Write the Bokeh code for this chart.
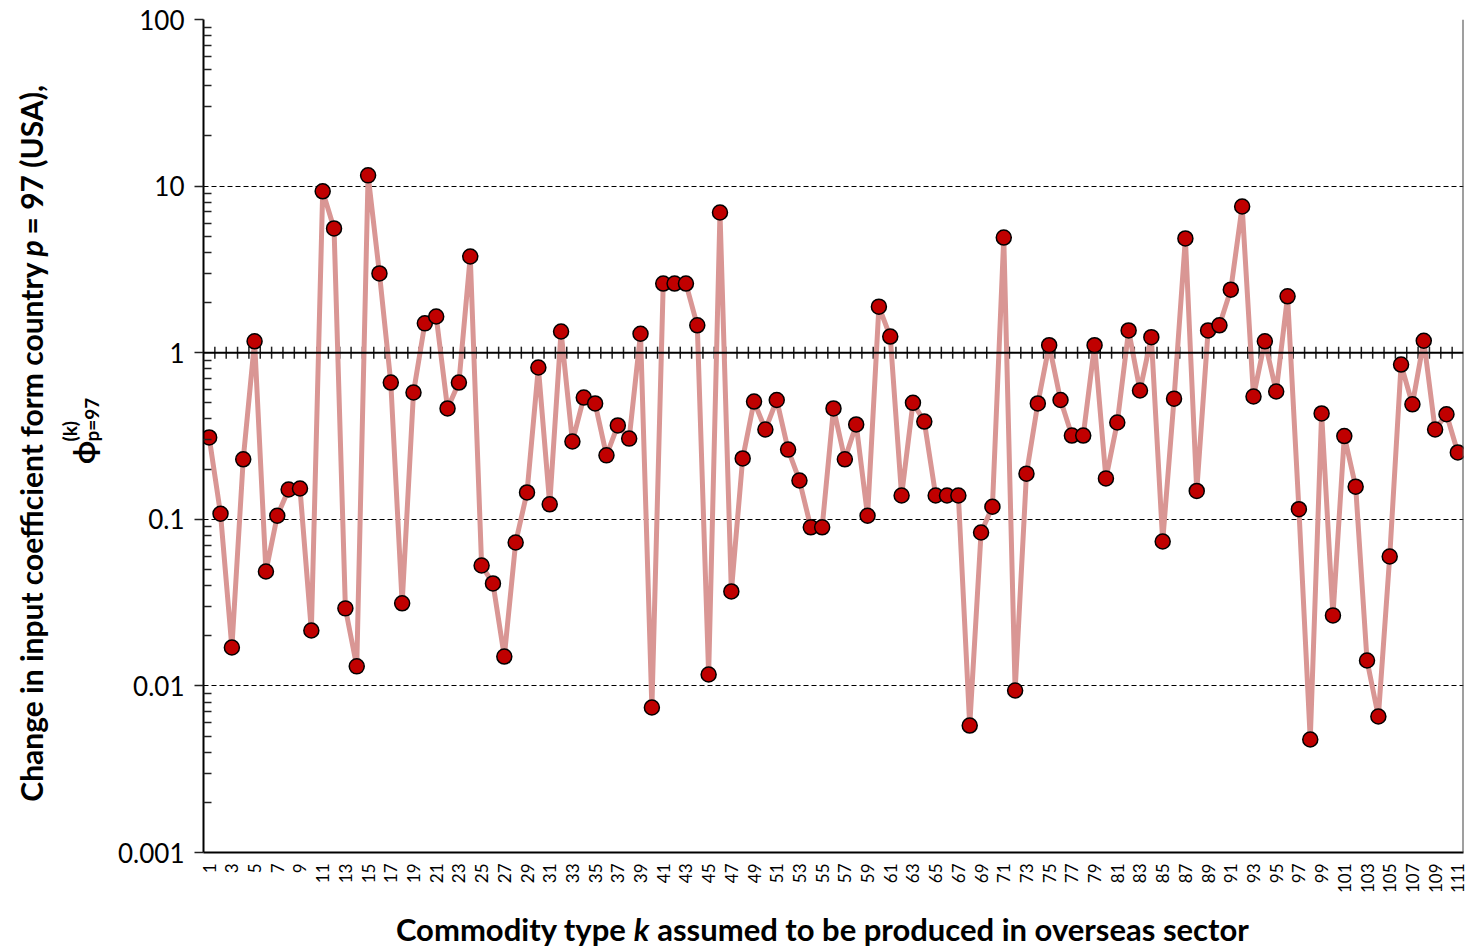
import math
from bokeh.plotting import figure
from bokeh.layouts import row, column
from bokeh.models import FixedTicker, Span, Label, CustomJSTickFormatter, ColumnDataSource, Range1d
from bokeh.embed import file_html
from bokeh.resources import INLINE

# ---- data ----
commodity = list(range(1, 112))
phi = [0.31, 0.108, 0.0170, 0.229, 1.17, 0.0486, 0.105, 0.151, 0.153, 0.0215,
       9.3, 5.57, 0.0292, 0.0131, 11.6, 2.99, 0.662, 0.0313, 0.577, 1.50,
       1.65, 0.463, 0.662, 3.78, 0.0528, 0.0412, 0.0150, 0.0726, 0.145, 0.815,
       0.123, 1.34, 0.293, 0.538, 0.496, 0.242, 0.366, 0.305, 1.30, 0.00742,
       2.60, 2.60, 2.60, 1.46, 0.0117, 6.94, 0.0369, 0.232, 0.509, 0.346,
       0.52, 0.262, 0.171, 0.0895, 0.0895, 0.463, 0.229, 0.371, 0.105, 1.89,
       1.25, 0.139, 0.50, 0.386, 0.139, 0.139, 0.139, 0.00578, 0.0833, 0.119,
       4.91, 0.00938, 0.188, 0.496, 1.11, 0.52, 0.318, 0.318, 1.11, 0.176,
       0.381, 1.36, 0.593, 1.24, 0.0736, 0.53, 4.85, 0.148, 1.36, 1.46,
       2.39, 7.54, 0.546, 1.17, 0.585, 2.18, 0.115, 0.00477, 0.432, 0.0265,
       0.316, 0.157, 0.0142, 0.00655, 0.0598, 0.849, 0.49, 1.18, 0.346, 0.427,
       0.252]
x_tick_values = list(range(1, 112, 2))
x_tick_labels = [str(k) for k in x_tick_values]
y_ticks = [0.001, 0.01, 0.1, 1, 10, 100]
y_tick_labels = ["0.001", "0.01", "0.1", "1", "10", "100"]
y_minor = [m * d for d in [0.001, 0.01, 0.1, 1, 10] for m in range(2, 10)]
grid_levels = [0.01, 0.1, 10, 100]

FONT = "Lato"
LEFT_W = 110          # width of the y-title strip
MAIN_W = 1358
MAIN_H = 902
XT_H = 44
TOTAL_H = MAIN_H + XT_H

# ---- main plot ----
p = figure(width=MAIN_W, height=MAIN_H, y_axis_type="log",
           x_range=(0.5, 111.5), y_range=(0.001, 100),
           output_backend="svg", toolbar_location=None,
           min_border_left=93, min_border_right=5,
           min_border_top=19, min_border_bottom=50)
p.outline_line_color = None
p.background_fill_color = "white"
p.border_fill_color = "white"

p.xgrid.visible = False
p.ygrid.ticker = FixedTicker(ticks=grid_levels)
p.ygrid.grid_line_color = "#000000"
p.ygrid.grid_line_width = 1.2
p.ygrid.grid_line_dash = "5 3"

xa = p.xaxis[0]
xa.ticker = FixedTicker(ticks=x_tick_values)
xa.major_label_overrides = {k: s for k, s in zip(x_tick_values, x_tick_labels)}
xa.major_label_orientation = math.pi / 2
xa.major_tick_in = 0
xa.major_tick_out = 0
xa.minor_tick_in = 0
xa.minor_tick_out = 0
xa.major_label_standoff = 11
xa.major_label_text_font = FONT
xa.major_label_text_font_size = "17px"
xa.major_label_text_color = "black"
xa.axis_line_color = "black"
xa.axis_line_width = 2

ya = p.yaxis[0]
ya.ticker = FixedTicker(ticks=y_ticks, minor_ticks=y_minor)
ya.formatter = CustomJSTickFormatter(
    args=dict(tv=y_ticks, tl=y_tick_labels),
    code="for (let i = 0; i < tv.length; i++) { if (Math.abs(tv[i] - tick) < 1e-9 * Math.max(1, tv[i])) return tl[i]; } return '';")
ya.major_tick_in = 0
ya.major_tick_out = 9
ya.minor_tick_in = 8
ya.minor_tick_out = 0
ya.major_tick_line_width = 1.5
ya.minor_tick_line_width = 1.5
ya.major_tick_line_color = "#222222"
ya.minor_tick_line_color = "#222222"
ya.axis_line_color = "black"
ya.axis_line_width = 2
ya.major_label_standoff = 10
ya.major_label_text_font = FONT
ya.major_label_text_font_size = "26px"
ya.major_label_text_color = "black"

p.add_layout(Span(location=111.5, dimension="height", line_color="#404040", line_width=2))
p.add_layout(Span(location=1, dimension="width", line_color="black", line_width=2))
bx = [k + 0.5 for k in range(1, 111)]
p.segment(x0=bx, x1=bx, y0=[1 / 1.087] * len(bx), y1=[1.087] * len(bx),
          line_color="#222222", line_width=1.5)

src = ColumnDataSource(dict(k=commodity, phi=phi))
p.line("k", "phi", source=src, line_color="#D99694", line_width=5)
p.scatter("k", "phi", source=src, size=15, fill_color="#C00000",
          line_color="black", line_width=1.5)


# ---- title strips (pixel-coordinate figures) ----
def strip(w, h):
    f = figure(width=w, height=h, x_range=Range1d(0, w), y_range=Range1d(h, 0),
               output_backend="svg", toolbar_location=None,
               x_axis_location=None, y_axis_location=None,
               min_border=0, min_border_left=0, min_border_right=0,
               min_border_top=0, min_border_bottom=0)
    f.outline_line_color = None
    f.grid.visible = False
    f.background_fill_color = "white"
    f.border_fill_color = "white"
    return f


def lab(f, x, y, text, size, align="left", italic=False, angle=0.0):
    style = "bold italic" if italic else "bold"
    f.add_layout(Label(x=x, y=y, x_units="data", y_units="data",
                       text=text, text_font=FONT, text_font_size=f"{size}px",
                       text_font_style=style, text_align=align,
                       text_baseline="middle", angle=angle, text_color="black"))


yt = strip(LEFT_W, TOTAL_H)
R = math.pi / 2
lab(yt, 30, 262, "Change in input coefficient form country", 30, align="right", angle=R)
lab(yt, 30, 248, "p", 30, align="center", italic=True, angle=R)
lab(yt, 30, 234, "= 97 (USA),", 30, align="left", angle=R)
lab(yt, 82, 452, "\u03d5", 30, align="center", angle=R)
lab(yt, 69, 441, "(k)", 19, align="left", angle=R)
lab(yt, 91, 441, "p=97", 19, align="left", angle=R)

xt = strip(MAIN_W, XT_H)
lab(xt, 566 - LEFT_W, 26, "Commodity type", 31, align="right")
lab(xt, 582 - LEFT_W, 26, "k", 31, align="center", italic=True)
lab(xt, 599 - LEFT_W, 26, "assumed to be produced in overseas sector", 31, align="left")

layout = row(yt, column(p, xt, spacing=0), spacing=0)
open("out.html", "w").write(file_html(layout, INLINE))
